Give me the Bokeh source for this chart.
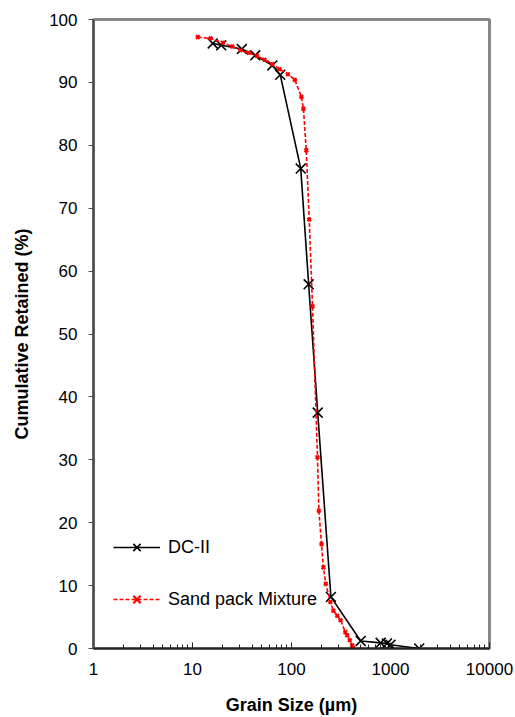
from bokeh.plotting import figure
from bokeh.models import (Range1d, FixedTicker, SingleIntervalTicker, PrintfTickFormatter,
                          Legend, LegendItem)
from bokeh.embed import file_html
from bokeh.resources import INLINE

# ---- data ----
dc_size = [16, 19.5, 31.5, 43, 64, 77, 124, 149, 184, 250, 500, 795, 920, 1000, 1950]
dc_ret = [96.2, 95.9, 95.3, 94.3, 92.7, 91.2, 76.3, 57.9, 37.5, 8.2, 1.2, 0.9, 0.8, 0.6, 0.0]

sp_size = [11.3, 15.2, 20.2, 25.2, 30.6, 37, 45, 53.5, 64, 76, 92, 108, 126, 132, 141,
           151, 163, 183, 189, 201, 210, 222, 247, 265, 290, 313, 350, 365, 388, 410, 420]
sp_ret = [97.2, 97.0, 96.3, 95.7, 95.1, 94.7, 94.2, 93.6, 92.9, 92.1, 91.3, 90.4, 87.7, 85.8, 79.2,
          68.2, 54.4, 30.4, 21.9, 16.6, 12.9, 10.3, 7.4, 6.0, 5.2, 4.5, 2.6, 2.1, 1.3, 0.5, 0.1]

x_ticks = [1, 10, 100, 1000, 10000]
x_minor = [m * d for d in [1, 10, 100, 1000] for m in range(2, 10)]

FONT = "Liberation Sans"

p = figure(x_axis_type="log", output_backend="svg", toolbar_location=None,
           frame_width=396, frame_height=629, width=515, height=717,
           min_border_left=93, min_border_right=26, min_border_top=19, min_border_bottom=69,
           x_range=Range1d(1, 10000), y_range=Range1d(0, 100))
p.background_fill_color = "white"
p.border_fill_color = "white"
p.outline_line_color = "#878787"
p.outline_line_width = 3
p.xgrid.visible = False
p.ygrid.visible = False

# x axis
xa = p.xaxis[0]
xa.ticker = FixedTicker(ticks=x_ticks, minor_ticks=x_minor)
xa.formatter = PrintfTickFormatter(format="%d")
xa.major_tick_in = 6
xa.major_tick_out = 0
xa.minor_tick_in = 4
xa.minor_tick_out = 0
xa.axis_line_color = "#222222"
xa.axis_line_width = 2
xa.major_tick_line_color = "#222222"
xa.minor_tick_line_color = "#222222"
xa.major_label_text_font = FONT
xa.major_label_text_font_size = "17px"
xa.major_label_text_color = "black"
xa.major_label_standoff = 14
xa.axis_label = "Grain Size (µm)"
xa.axis_label_text_font = FONT
xa.axis_label_text_font_size = "18px"
xa.axis_label_text_font_style = "bold"
xa.axis_label_text_color = "black"
xa.axis_label_standoff = 17

# y axis
ya = p.yaxis[0]
ya.ticker = SingleIntervalTicker(interval=10, num_minor_ticks=0)
ya.major_tick_in = 0
ya.major_tick_out = 5
ya.minor_tick_line_color = None
ya.axis_line_color = "#4a4a4a"
ya.axis_line_width = 2
ya.major_tick_line_color = "#4a4a4a"
ya.major_label_text_font = FONT
ya.major_label_text_font_size = "17px"
ya.major_label_text_color = "black"
ya.major_label_standoff = 11
ya.axis_label = "Cumulative Retained (%)"
ya.axis_label_text_font = FONT
ya.axis_label_text_font_size = "18px"
ya.axis_label_text_font_style = "bold"
ya.axis_label_text_color = "black"
ya.axis_label_standoff = 14

# series
dc_line = p.line(dc_size, dc_ret, line_color="black", line_width=1.6)
dc_pts = p.scatter(dc_size, dc_ret, marker="x", size=14, line_color="black", line_width=1.6)

sp_line = p.line(sp_size, sp_ret, line_color="#ff0000", line_width=1.6, line_dash="4 2")
sp_pts = p.scatter(sp_size, sp_ret, marker="x", size=5, line_color="#ff0000", line_width=2.2)

legend = Legend(items=[LegendItem(label="DC-II", renderers=[dc_line, dc_pts]),
                       LegendItem(label="Sand pack Mixture", renderers=[sp_line, sp_pts])],
                location=(20, 36), padding=0, margin=0, spacing=26,
                glyph_width=47, glyph_height=26, label_height=26, label_standoff=8,
                label_text_font=FONT, label_text_font_size="18px", label_text_color="black",
                border_line_color=None, background_fill_alpha=0)
p.add_layout(legend, "center")

open("out.html", "w").write(file_html(p, INLINE))
